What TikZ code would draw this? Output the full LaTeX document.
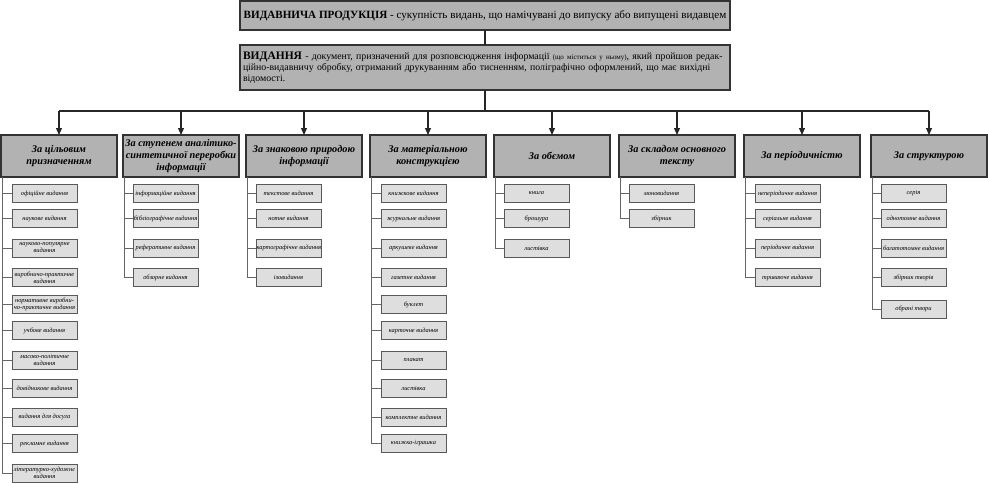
\documentclass[tikz,border=0pt]{standalone}
\usepackage{fontspec}
\setmainfont{Liberation Serif}
\usetikzlibrary{arrows.meta}
\definecolor{hdrfill}{gray}{0.70}
\definecolor{itmfill}{gray}{0.87}
\definecolor{hdrline}{gray}{0.2}
\definecolor{itmline}{gray}{0.35}
\definecolor{connline}{gray}{0.4}
\newcommand\itm[4]{\node[itm] (#1) at (#2,#3) {#4};}
\newcommand\tick[2]{\draw[conn] (#1.west) -- (#1.west -| #2);}
\begin{document}
\begin{tikzpicture}[x=1pt,y=-1pt,
  topbox/.style={draw=hdrline, line width=1.5pt, fill=hdrfill, anchor=north west, inner sep=3pt, outer sep=0pt},
  hdr/.style={draw=hdrline, line width=1.5pt, fill=hdrfill, anchor=north west, minimum width=116, minimum height=42, align=center, font=\fontsize{10.3}{11.8}\selectfont\bfseries\itshape, inner sep=1pt, outer sep=0pt},
  itm/.style={draw=itmline, line width=0.9pt, fill=itmfill, anchor=west, minimum width=65, minimum height=18, align=center, font=\fontsize{6.4}{7}\selectfont\itshape, inner xsep=0.5pt, inner ysep=0.5pt, outer sep=0pt},
  conn/.style={draw=connline, line width=0.8pt},
  busline/.style={draw=black!85, line width=1.2pt},
  arr/.style={busline, -{Triangle[length=7pt,width=6pt]}}]
\useasboundingbox (0,0) rectangle (988,483);

% top boxes
\node[topbox, minimum width=490, minimum height=29, align=center, inner xsep=2pt, font=\fontsize{11.1}{13}\selectfont] (prod) at (240,1)
  {\textbf{ВИДАВНИЧА ПРОДУКЦІЯ} - сукупність видань, що намічувані до випуску або випущені видавцем};
\node[topbox, minimum width=490, minimum height=45, text width=484, inner xsep=3pt, align=left, font=\fontsize{9.8}{11}\selectfont] (vyd) at (240,45)
  {{\fontsize{11.5}{11}\selectfont\textbf{ВИДАННЯ}} - документ, призначений для розповсюдження інформації {\fontsize{7}{11}\selectfont(що міститься у ньому)}, який пройшов редак-\\
   ційно-видавничу обробку, отриманий друкуванням або тисненням, поліграфічно оформлений, що має вихідні\\
   відомості.};

% headers
\node[hdr] (h1) at (1,135) {За цільовим\\призначенням};
\node[hdr] (h2) at (123,135) {За ступенем аналітико-\\синтетичної переробки\\інформації};
\node[hdr] (h3) at (246,135) {За знаковою природою\\інформації};
\node[hdr] (h4) at (370,135) {За матеріальною\\конструкцією};
\node[hdr] (h5) at (494,135) {За обємом};
\node[hdr] (h6) at (619,135) {За складом основного\\тексту};
\node[hdr] (h7) at (744,135) {За періодичністю};
\node[hdr] (h8) at (871,135) {За структурою};

% bus
\coordinate (bus) at (485,111);
\draw[busline] (prod.south -| bus) -- (vyd.north -| bus);
\draw[busline] (vyd.south -| bus) -- (bus);
\draw[busline] (h1.north |- bus) -- (h8.north |- bus);
\foreach \h in {h1,h2,h3,h4,h5,h6,h7,h8}
  {\draw[arr] (\h.north |- bus) -- (\h.north);}

% column line starts
\foreach \n in {1,...,8}
  {\coordinate (l\n) at ([xshift=1.5pt]h\n.south west);}

% column 1
\itm{a1}{12}{193.5}{офіційне видання}
\itm{a2}{12}{218.5}{наукове видання}
\itm{a3}{12}{248}{науково-популярне\\видання}
\itm{a4}{12}{277.5}{виробничо-практичне\\видання}
\itm{a5}{12}{304.5}{нормативне виробни-\\чо-практичне видання}
\itm{a6}{12}{330.5}{учбове видання}
\itm{a7}{12}{360}{масово-політичне\\видання}
\itm{a8}{12}{388.5}{довідникове видання}
\itm{a9}{12}{417}{видання для досуга}
\itm{a10}{12}{443.5}{рекламне видання}
\itm{a11}{12}{473}{літературно-художнє\\видання}
\draw[conn] (l1) |- (a11.west);
\foreach \i in {a1,a2,a3,a4,a5,a6,a7,a8,a9,a10} {\tick{\i}{l1}}

% column 2
\itm{b1}{133}{193.5}{інформаційне видання}
\itm{b2}{133}{218.5}{бібліографічне видання}
\itm{b3}{133}{248}{реферативне видання}
\itm{b4}{133}{277.5}{обзорне видання}
\draw[conn] (l2) |- (b4.west);
\foreach \i in {b1,b2,b3} {\tick{\i}{l2}}

% column 3
\itm{c1}{256}{193.5}{текстове видання}
\itm{c2}{256}{218.5}{нотне видання}
\itm{c3}{256}{248}{картографічне видання}
\itm{c4}{256}{277.5}{ізовидання}
\draw[conn] (l3) |- (c4.west);
\foreach \i in {c1,c2,c3} {\tick{\i}{l3}}

% column 4
\itm{d1}{381}{193.5}{книжкове видання}
\itm{d2}{381}{218.5}{журнальне видання}
\itm{d3}{381}{248}{аркушеве видання}
\itm{d4}{381}{277.5}{газетне видання}
\itm{d5}{381}{304.5}{буклет}
\itm{d6}{381}{330.5}{карточне видання}
\itm{d7}{381}{360}{плакат}
\itm{d8}{381}{388.5}{листівка}
\itm{d9}{381}{417}{комплектне видання}
\itm{d10}{381}{443.5}{книжка-іграшка}
\draw[conn] (l4) |- (d10.west);
\foreach \i in {d1,d2,d3,d4,d5,d6,d7,d8,d9} {\tick{\i}{l4}}

% column 5
\itm{e1}{504}{193.5}{книга}
\itm{e2}{504}{218.5}{брошура}
\itm{e3}{504}{248}{листівка}
\draw[conn] (l5) |- (e3.west);
\foreach \i in {e1,e2} {\tick{\i}{l5}}

% column 6
\itm{f1}{629}{193.5}{моновидання}
\itm{f2}{629}{218.5}{збірник}
\draw[conn] (l6) |- (f2.west);
\tick{f1}{l6}

% column 7
\itm{g1}{755}{193.5}{неперіодичне видання}
\itm{g2}{755}{218.5}{серіальне видання}
\itm{g3}{755}{248}{періодичне видання}
\itm{g4}{755}{277.5}{триваюче видання}
\draw[conn] (l7) |- (g4.west);
\foreach \i in {g1,g2,g3} {\tick{\i}{l7}}

% column 8
\itm{k1}{881}{193.5}{серія}
\itm{k2}{881}{218.5}{однотомне видання}
\itm{k3}{881}{248}{багатотомне видання}
\itm{k4}{881}{277.5}{збірник творів}
\itm{k5}{881}{309}{обрані твори}
\draw[conn] (l8) |- (k5.west);
\foreach \i in {k1,k2,k3,k4} {\tick{\i}{l8}}
\end{tikzpicture}
\end{document}
